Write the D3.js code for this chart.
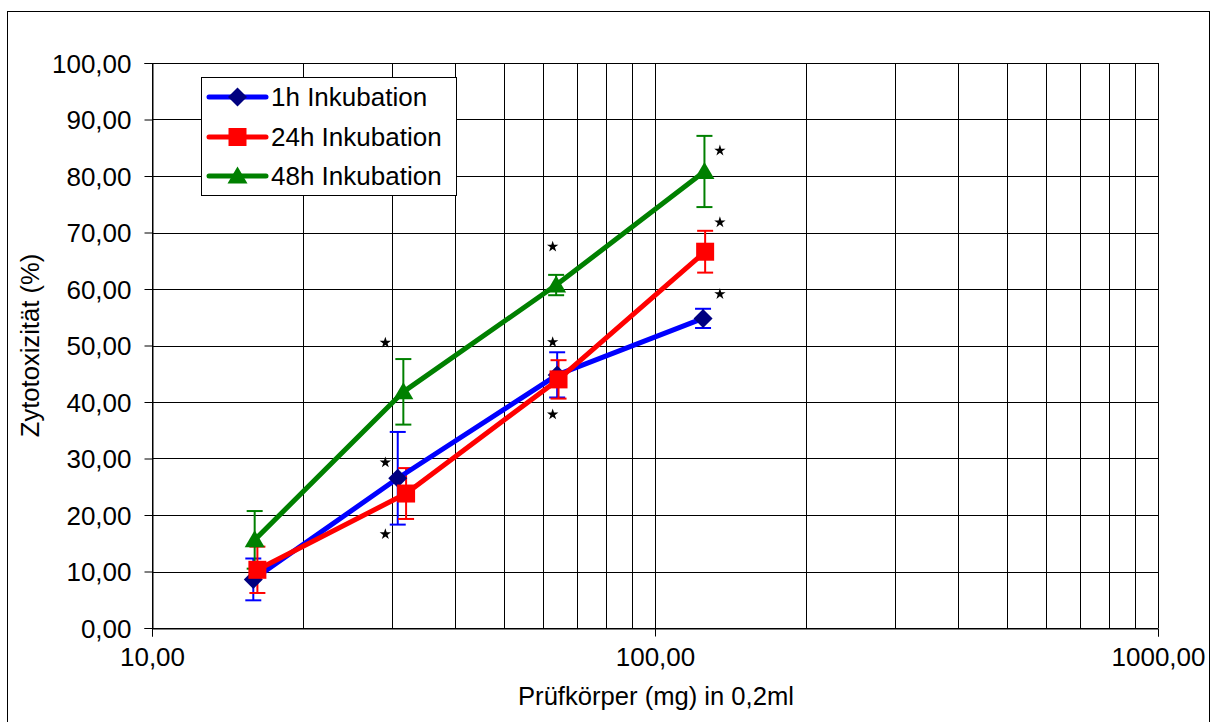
<!DOCTYPE html>
<html>
<head>
<meta charset="utf-8">
<script src="https://cdn.jsdelivr.net/npm/d3@7"></script>
<style>
  html, body { margin: 0; padding: 0; background: #fff; }
  svg { display: block; }
  text { font-family: "Liberation Sans", Arial, sans-serif; fill: #000; }
</style>
</head>
<body>
<svg id="chart" width="1216" height="722"></svg>
<script>
// ---- data ----
const seriesNames = ["1h Inkubation", "24h Inkubation", "48h Inkubation"];
const x1h  = [15.9, 30.8, 63.9, 124.6];
const y1h  = [8.6, 26.5, 44.8, 54.8];
const e1h  = [3.7, 8.2, 4.0, 1.7];
const x24h = [16.2, 32.0, 64.3, 125.8];
const y24h = [10.3, 23.8, 44.0, 66.6];
const e24h = [4.1, 4.5, 3.4, 3.7];
const x48h = [16.0, 31.6, 63.6, 125.4];
const y48h = [15.6, 41.8, 60.7, 80.8];
const e48h = [5.1, 5.8, 1.8, 6.3];
// significance markers (*)
const starX = [29.1, 29.1, 29.1, 62.6, 62.6, 62.6, 134.6, 134.6, 134.6];
const starY = [50.5, 29.3, 16.6, 67.5, 50.6, 37.8, 84.5, 71.8, 59.1];
const yTicks = [0, 10, 20, 30, 40, 50, 60, 70, 80, 90, 100];
const xMajorTicks = [10, 100, 1000];
const xMinorTicks = [20, 30, 40, 50, 60, 70, 80, 90, 200, 300, 400, 500, 600, 700, 800, 900];
const xTitle = "Prüfkörper (mg) in 0,2ml";
const yTitle = "Zytotoxizität (%)";

const colors = ["#0000FF", "#FF0000", "#008000"];
const markerFill = ["#000080", "#FF0000", "#008000"];
// custom Excel-like marker shapes
const markerPaths = [
  "M0,-9.5L9.5,0L0,9.5L-9.5,0Z",          // diamond
  "M-9,-9L9,-9L9,9L-9,9Z",                 // square
  "M0,-9.5L10,7.5L-10,7.5Z"                // triangle
];

const series = [
  {name: seriesNames[0], x: x1h, y: y1h, e: e1h},
  {name: seriesNames[1], x: x24h, y: y24h, e: e24h},
  {name: seriesNames[2], x: x48h, y: y48h, e: e48h}
];

// ---- layout ----
const L = 152, R = 1158, T = 63, B = 628;
const svg = d3.select("#chart");
const xS = d3.scaleLog().domain([10, 1000]).range([L, R]);
const yS = d3.scaleLinear().domain([0, 100]).range([B, T]);
const fmt = v => d3.format(".2f")(v).replace(".", ",");

// outer frame
svg.append("rect").attr("x", 7.5).attr("y", 11.5).attr("width", 1202).attr("height", 730)
  .attr("fill", "#fff").attr("stroke", "#000").attr("stroke-width", 1);

// plot background
svg.append("rect").attr("x", L).attr("y", T).attr("width", R - L).attr("height", B - T).attr("fill", "#fff");

const grid = svg.append("g").attr("stroke", "#000").attr("stroke-width", 1).attr("shape-rendering", "crispEdges");
grid.selectAll("line.h").data(yTicks).join("line").attr("class", "h")
  .attr("x1", L).attr("x2", R).attr("y1", d => Math.round(yS(d)) + 0.5).attr("y2", d => Math.round(yS(d)) + 0.5);
grid.selectAll("line.v").data(xMinorTicks.concat(xMajorTicks)).join("line").attr("class", "v")
  .attr("y1", T).attr("y2", B).attr("x1", d => Math.round(xS(d)) + 0.5).attr("x2", d => Math.round(xS(d)) + 0.5);

// axes
const yAxis = d3.axisLeft(yS).tickValues(yTicks).tickFormat(fmt).tickSize(8).tickPadding(13);
const gy = svg.append("g").attr("transform", `translate(${L + 0.5},0)`).call(yAxis);
const xAxis = d3.axisBottom(xS).tickValues(xMajorTicks).tickFormat(fmt).tickSize(8).tickPadding(11);
const gx = svg.append("g").attr("transform", `translate(0,${B + 0.5})`).call(xAxis);
[gy, gx].forEach(g => {
  g.select(".domain").attr("stroke", "#000").attr("stroke-width", 1);
  g.selectAll(".tick line").attr("stroke", "#000");
  g.selectAll(".tick text").attr("font-size", 26).attr("font-family", '"Liberation Sans", Arial, sans-serif').attr("fill", "#000");
});
gy.selectAll(".tick text").attr("dy", "0.35em");
gx.selectAll(".tick text").attr("dy", "0.71em");

// titles
svg.append("text").attr("x", (L + R) / 2 + 1).attr("y", 705).attr("text-anchor", "middle")
  .attr("font-size", 25.6).text(xTitle);
svg.append("text").attr("transform", `translate(39,${(T + B) / 2}) rotate(-90)`).attr("text-anchor", "middle")
  .attr("font-size", 25.6).text(yTitle);

// error bars
const eb = svg.append("g");
series.forEach((s, i) => {
  s.x.forEach((xv, j) => {
    const cx = xS(xv), y0 = yS(s.y[j] + s.e[j]), y1 = yS(s.y[j] - s.e[j]);
    const g = eb.append("g").attr("stroke", colors[i]).attr("stroke-width", 2);
    g.append("line").attr("x1", cx).attr("x2", cx).attr("y1", y0).attr("y2", y1);
    g.append("line").attr("x1", cx - 8).attr("x2", cx + 8).attr("y1", y0).attr("y2", y0);
    g.append("line").attr("x1", cx - 8).attr("x2", cx + 8).attr("y1", y1).attr("y2", y1);
  });
});

// lines
const lineGen = d3.line().x(d => xS(d[0])).y(d => yS(d[1]));
series.forEach((s, i) => {
  svg.append("path").datum(s.x.map((xv, j) => [xv, s.y[j]]))
    .attr("d", lineGen).attr("fill", "none").attr("stroke", colors[i])
    .attr("stroke-width", 5).attr("stroke-linejoin", "round").attr("stroke-linecap", "round");
});

// markers
series.forEach((s, i) => {
  svg.append("g").selectAll("path").data(s.x.map((xv, j) => [xv, s.y[j]])).join("path")
    .attr("transform", d => `translate(${xS(d[0])},${yS(d[1])})`)
    .attr("d", markerPaths[i])
    .attr("fill", markerFill[i]);
});

// significance stars
svg.append("g").selectAll("path").data(starX.map((xv, j) => [xv, starY[j]])).join("path")
  .attr("transform", d => `translate(${xS(d[0])},${yS(d[1])})`)
  .attr("d", d3.symbol().type(d3.symbolStar).size(40))
  .attr("fill", "#000");

// legend
const lg = svg.append("g");
lg.append("rect").attr("x", 201.5).attr("y", 77.5).attr("width", 255).attr("height", 118)
  .attr("fill", "#fff").attr("stroke", "#000").attr("stroke-width", 1);
const rowsY = [97, 137, 176];
series.forEach((s, i) => {
  lg.append("line").attr("x1", 209).attr("x2", 266).attr("y1", rowsY[i]).attr("y2", rowsY[i])
    .attr("stroke", colors[i]).attr("stroke-width", 5).attr("stroke-linecap", "round");
  lg.append("path").attr("transform", `translate(237.5,${rowsY[i]})`)
    .attr("d", markerPaths[i]).attr("fill", markerFill[i]);
  lg.append("text").attr("x", 271).attr("y", rowsY[i]).attr("dy", "0.35em")
    .attr("font-size", 26).text(s.name);
});
</script>
</body>
</html>
